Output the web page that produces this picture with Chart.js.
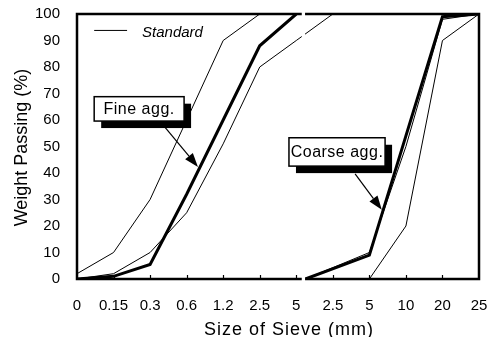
<!DOCTYPE html>
<html lang="en">
<head>
  <meta charset="UTF-8">
  <title>Sieve grading</title>
  <script src="https://cdn.jsdelivr.net/npm/chart.js"></script>
  <style>
    body { margin: 0; background: #fff; }
    canvas { display: block; }
  </style>
</head>
<body>
<canvas id="chartGrading" width="499" height="337"></canvas>

<script>
  // sieve positions along the axis (fine part, then coarse part after the break)
  const xLabels = ['0', '0.15', '0.3', '0.6', '1.2', '2.5', '5', '2.5', '5', '10', '20', '25'];

  // fine aggregate (%)
  const fineX = [0, 1, 2, 3, 4, 5, 6];
  const fineAgg = [0, 1, 5.5, 32, 60, 88, 100];
  const fineUpper = [2, 10, 30, 60, 90, 100, 100];
  const fineLowerX = [0, 1, 2, 3, 4, 5, 6, 7];
  const fineLower = [0, 2, 10, 25, 51, 80, 90, 100];

  // coarse aggregate (%)
  const coarseX = [6.25, 8, 9, 10, 11];
  const coarseAgg = [0, 9, 54, 99, 100];
  const coarseUpper = [0, 10, 50, 98, 100];
  const coarseLower = [0, 0, 20, 90, 100];

  const yTicks = [0, 10, 20, 30, 40, 50, 60, 70, 80, 90, 100];

  // callouts, in axis units
  const notes = [
    { text: 'Fine agg.', box: [0.47, 68.8, 2.93, 59.6], from: [2.41, 57.2], to: [3.31, 42.3] },
    { text: 'Coarse agg.', box: [5.8, 53.3, 8.43, 42.6], from: [7.61, 39.7], to: [8.34, 26.1] }
  ];
  const breakGap = [6.15, 6.24];

  const pts = (xs, ys) => xs.map((v, i) => ({ x: v, y: ys[i] }));
  const thick = { borderColor: '#000', borderWidth: 3, pointRadius: 0, tension: 0, fill: false };
  const thin = { borderColor: '#000', borderWidth: 1, pointRadius: 0, tension: 0, fill: false };

  const FONT = "'Liberation Sans', Arial, sans-serif";

  const decor = {
    id: 'decor',
    afterDatasetsDraw(chart) {
      const { ctx, chartArea: a, scales: { x, y } } = chart;
      ctx.save();

      // frame
      ctx.strokeStyle = '#000';
      ctx.lineWidth = 2.5;
      ctx.strokeRect(a.left, a.top, a.right - a.left, a.bottom - a.top);

      // small tick marks on the bottom axis
      ctx.lineWidth = 1.2;
      for (let i = 1; i < xLabels.length - 1; i++) {
        const px = Math.round(x.getPixelForValue(i)) + 0.5;
        ctx.beginPath();
        ctx.moveTo(px, a.bottom);
        ctx.lineTo(px, a.bottom - 4);
        ctx.stroke();
      }

      // axis break
      const b0 = x.getPixelForValue(breakGap[0]);
      const b1 = x.getPixelForValue(breakGap[1]);
      ctx.fillStyle = '#fff';
      ctx.fillRect(b0, a.top - 3, b1 - b0, a.bottom - a.top + 6);

      // legend
      ctx.lineWidth = 1;
      ctx.beginPath();
      ctx.moveTo(x.getPixelForValue(0.47), y.getPixelForValue(93.8));
      ctx.lineTo(x.getPixelForValue(1.37), y.getPixelForValue(93.8));
      ctx.stroke();
      ctx.fillStyle = '#000';
      ctx.font = 'italic 15px ' + FONT;
      ctx.textAlign = 'left';
      ctx.textBaseline = 'alphabetic';
      ctx.fillText('Standard', x.getPixelForValue(1.78), y.getPixelForValue(91.5));

      // callouts
      notes.forEach(n => {
        const x0 = x.getPixelForValue(n.box[0]), y0 = y.getPixelForValue(n.box[1]);
        const x1 = x.getPixelForValue(n.box[2]), y1 = y.getPixelForValue(n.box[3]);
        const fx = x.getPixelForValue(n.from[0]), fy = y.getPixelForValue(n.from[1]);
        const tx = x.getPixelForValue(n.to[0]), ty = y.getPixelForValue(n.to[1]);

        // arrow
        const ang = Math.atan2(ty - fy, tx - fx);
        const hl = 14, hw = 5;
        const bx = tx - hl * Math.cos(ang), by = ty - hl * Math.sin(ang);
        ctx.strokeStyle = '#000';
        ctx.lineWidth = 1.2;
        ctx.beginPath();
        ctx.moveTo(fx, fy);
        ctx.lineTo(bx, by);
        ctx.stroke();
        ctx.fillStyle = '#000';
        ctx.beginPath();
        ctx.moveTo(tx, ty);
        ctx.lineTo(bx + hw * Math.sin(ang), by - hw * Math.cos(ang));
        ctx.lineTo(bx - hw * Math.sin(ang), by + hw * Math.cos(ang));
        ctx.closePath();
        ctx.fill();

        // shadow + box
        ctx.fillRect(x0 + 7, y0 + 7, x1 - x0, y1 - y0);
        ctx.fillStyle = '#fff';
        ctx.fillRect(x0, y0, x1 - x0, y1 - y0);
        ctx.lineWidth = 1.5;
        ctx.strokeRect(x0, y0, x1 - x0, y1 - y0);
        ctx.fillStyle = '#000';
        ctx.font = '16px ' + FONT;
        ctx.textAlign = 'center';
        ctx.textBaseline = 'middle';
        ctx.letterSpacing = '0.5px';
        ctx.fillText(n.text, (x0 + x1) / 2, (y0 + y1) / 2 + 1);
        ctx.letterSpacing = '0px';
      });

      // axis titles
      ctx.fillStyle = '#000';
      ctx.font = '18px ' + FONT;
      ctx.textAlign = 'center';
      ctx.textBaseline = 'alphabetic';
      ctx.letterSpacing = '1px';
      ctx.fillText('Size of Sieve (mm)', (a.left + a.right) / 2 + 11, a.bottom + 56);
      ctx.letterSpacing = '0px';
      ctx.translate(a.left - 50, (a.top + a.bottom) / 2 + 1);
      ctx.rotate(-Math.PI / 2);
      ctx.fillText('Weight Passing (%)', 0, 0);

      ctx.restore();
    }
  };

  new Chart(document.getElementById('chartGrading'), {
    type: 'line',
    data: {
      datasets: [
        { ...thick, data: pts(fineX, fineAgg) },
        { ...thin, data: pts(fineX, fineUpper) },
        { ...thin, data: pts(fineLowerX, fineLower) },
        { ...thick, data: pts(coarseX, coarseAgg) },
        { ...thin, data: pts(coarseX, coarseUpper) },
        { ...thin, data: pts(coarseX, coarseLower) }
      ]
    },
    options: {
      responsive: false,
      animation: false,
      layout: { padding: { left: 0, right: 20, top: 14, bottom: 0 } },
      plugins: {
        legend: { display: false },
        tooltip: { enabled: false }
      },
      scales: {
        x: {
          type: 'linear',
          min: 0,
          max: xLabels.length - 1,
          grid: { display: false, drawTicks: false },
          border: { display: false },
          afterBuildTicks: s => { s.ticks = xLabels.map((_, i) => ({ value: i })); },
          ticks: {
            autoSkip: false,
            maxRotation: 0,
            padding: 18,
            color: '#000',
            font: { family: FONT, size: 15 },
            callback: v => xLabels[v]
          },
          afterFit: s => { s.height = 58; s.paddingLeft = 0; s.paddingRight = 0; }
        },
        y: {
          min: 0,
          max: 100,
          grid: { display: false, drawTicks: false },
          border: { display: false },
          afterBuildTicks: s => { s.ticks = yTicks.map(v => ({ value: v })); },
          ticks: {
            padding: 17,
            color: '#000',
            font: { family: FONT, size: 15 }
          },
          afterFit: s => { s.width = 77; s.paddingTop = 0; s.paddingBottom = 0; }
        }
      }
    },
    plugins: [decor]
  });
</script>
</body>
</html>
